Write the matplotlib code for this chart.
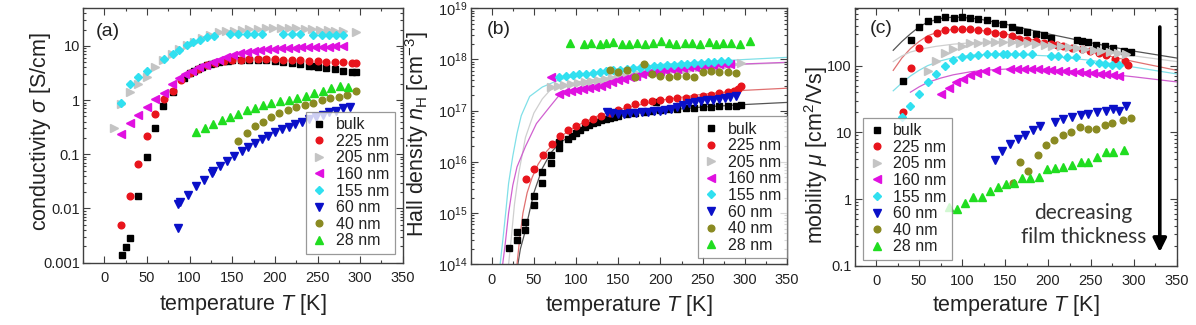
import matplotlib
matplotlib.use("Agg")
import matplotlib.pyplot as plt
from matplotlib.ticker import MultipleLocator, LogLocator, FuncFormatter, NullFormatter

plt.rcParams['font.family'] = ['Liberation Sans', 'DejaVu Sans']
plt.rcParams['mathtext.fontset'] = 'custom'
plt.rcParams['mathtext.rm'] = 'Liberation Sans'
plt.rcParams['mathtext.it'] = 'Liberation Sans:italic'
plt.rcParams['mathtext.bf'] = 'Liberation Sans:bold'

labels = ["bulk", "225 nm", "205 nm", "160 nm", "155 nm", "60 nm", "40 nm", "28 nm"]

# ---------------- panel (a): conductivity [S/cm] ----------------
a_T_bulk = [21, 25, 30, 40, 50, 59, 69, 80, 94, 100, 105, 110, 115, 120, 125, 130, 135, 140, 145, 150,
            160, 170, 180, 190, 200, 210, 220, 230, 240, 245, 250, 260, 270, 280, 290, 295]
a_bulk = [0.00136, 0.0019, 0.0028, 0.017, 0.089, 0.31, 0.77, 1.4, 2.6, 3.1, 3.5, 3.8, 4.1, 4.4, 4.7, 4.9,
          5.1, 5.2, 5.3, 5.4, 5.5, 5.6, 5.6, 5.5, 5.3, 5.1, 4.9, 4.6, 4.3, 4.2, 4.1, 3.9, 3.7, 3.5, 3.35, 3.3]
a_T_225 = [20, 30, 40, 50, 60, 70, 80, 90, 100, 110, 120, 130, 140, 150, 160, 170, 180, 190, 200, 210,
           220, 230, 240, 250, 260, 270, 280, 290, 295]
a_225 = [0.0049, 0.017, 0.066, 0.22, 0.55, 1.03, 1.5, 2.3, 3.1, 3.8, 4.4, 4.9, 5.2, 5.4, 5.6, 5.7, 5.8,
         5.8, 5.7, 5.6, 5.5, 5.4, 5.3, 5.2, 5.1, 5.0, 4.95, 4.9, 4.8]
a_T_205 = [11, 20, 30, 40, 50, 60, 69, 79, 88, 97, 105, 114, 124, 134, 143, 152, 161, 170, 180, 189, 198,
           207, 216, 225, 235, 244, 253, 262, 271, 280, 295]
a_205 = [0.30, 0.83, 1.4, 2.0, 2.7, 4.1, 5.6, 7.2, 8.6, 10.2, 12, 14, 16, 17.7, 18.5, 19.2, 19.8, 20.3,
         20.8, 21.2, 21.5, 21.5, 21.3, 21, 20.7, 20.3, 20, 19.5, 19, 18.5, 17.8]
a_T_160 = [20, 30, 40, 50, 60, 70, 79, 87, 95, 103, 111, 119, 127, 135, 143, 151, 159, 167, 175, 183, 191,
           199, 207, 215, 223, 231, 239, 247, 255, 263, 271, 280]
a_160 = [0.24, 0.38, 0.52, 0.74, 1.03, 1.35, 2.0, 2.5, 3.0, 3.5, 4.0, 4.5, 5.0, 5.6, 6.2, 6.8, 7.3, 7.7,
         8.0, 8.3, 8.6, 8.8, 9.0, 9.2, 9.3, 9.4, 9.5, 9.6, 9.7, 9.7, 9.8, 9.8]
a_T_155 = [20, 30, 40, 50, 70, 80, 88, 97, 104, 112, 120, 129, 147, 157, 167, 175, 185, 210, 220, 229,
           245, 255, 263, 272, 280]
a_155 = [0.9, 2.0, 2.7, 3.5, 5.8, 7.2, 8.5, 10.2, 11.7, 12.9, 14.4, 15.5, 16.5, 16.5, 16.5, 16.5, 16.5,
         16.5, 16.5, 16.5, 16.0, 16.0, 16.0, 16.0, 15.8]
a_T_60 = [86, 86, 89, 98, 108, 117, 126, 128, 136, 144, 152, 161, 169, 177, 185, 192, 200, 208, 216, 224,
          232, 240, 248, 256, 264, 272, 280, 288]
a_60 = [0.0043, 0.012, 0.013, 0.018, 0.026, 0.034, 0.045, 0.05, 0.060, 0.074, 0.091, 0.114, 0.136, 0.16,
        0.19, 0.22, 0.26, 0.29, 0.32, 0.36, 0.40, 0.44, 0.49, 0.54, 0.59, 0.64, 0.70, 0.76]
a_T_40 = [157, 167, 177, 186, 196, 205, 215, 225, 235, 245, 255, 265, 275, 285, 295]
a_40 = [0.176, 0.25, 0.33, 0.39, 0.49, 0.57, 0.65, 0.73, 0.82, 0.90, 1.0, 1.07, 1.15, 1.26, 1.45]
a_T_28 = [108, 118, 128, 138, 147, 157, 167, 177, 186, 196, 206, 216, 226, 236, 246, 256, 266, 276, 286]
a_28 = [0.26, 0.31, 0.36, 0.42, 0.49, 0.56, 0.65, 0.72, 0.80, 0.88, 0.95, 1.02, 1.1, 1.2, 1.35, 1.5,
        1.65, 1.8, 1.75]

# ---------------- panel (b): Hall density [cm^-3] ----------------
b_T_bulk = [20, 30, 30, 40, 40, 50, 50, 60, 60, 70, 70, 80, 80, 90, 95, 100, 105, 110, 115, 120, 125, 130,
            135, 140, 145, 150, 160, 170, 180, 190, 195, 200, 210, 220, 230, 240, 250, 260, 270, 280,
            290, 295]
b_bulk = [2.1e14, 3e14, 4.3e14, 4.7e14, 6.6e14, 1.45e15, 2.2e15, 3.9e15, 6.3e15, 9.6e15, 1.35e16, 1.9e16,
          2.4e16, 2.8e16, 3.2e16, 3.7e16, 4.2e16, 4.7e16, 5.2e16, 5.7e16, 6.1e16, 6.5e16, 6.9e16, 7.3e16,
          7.6e16, 8e16, 8.7e16, 9.2e16, 9.6e16, 1e17, 1.5e17, 1.02e17, 1.06e17, 1.1e17, 1.12e17, 1.15e17,
          1.17e17, 1.19e17, 1.21e17, 1.23e17, 1.25e17, 1.27e17]
b_T_225 = [41, 50, 61, 71, 81, 90, 100, 110, 120, 130, 140, 150, 160, 170, 180, 190, 200, 210, 220, 230,
           240, 250, 260, 270, 280, 287, 292, 296]
b_225 = [4.6e15, 7.4e15, 1.35e16, 2.2e16, 3.2e16, 4.2e16, 5e16, 6e16, 7e16, 8e16, 9e16, 1.05e17, 1.2e17,
         1.35e17, 1.5e17, 1.58e17, 1.65e17, 1.7e17, 1.75e17, 1.8e17, 1.85e17, 1.95e17, 2.05e17, 2.2e17,
         2.3e17, 2.4e17, 2.6e17, 3.0e17]
b_T_205 = [70, 78, 86, 94, 102, 110, 118, 126, 134, 142, 150, 158, 166, 174, 182, 190, 198, 206, 214, 222,
           230, 238, 246, 254, 262, 270, 278, 286, 295]
b_205 = [2.9e17, 3.0e17, 3.15e17, 3.3e17, 3.45e17, 3.6e17, 3.8e17, 4.0e17, 4.2e17, 4.4e17, 4.6e17, 4.8e17,
         5.0e17, 5.2e17, 5.4e17, 5.6e17, 5.8e17, 6.0e17, 6.2e17, 6.4e17, 6.6e17, 6.8e17, 7.0e17, 7.2e17,
         7.4e17, 7.6e17, 7.8e17, 8.0e17, 8.5e17]
b_T_160 = [70, 80, 87, 94, 101, 108, 115, 122, 129, 136, 143, 150, 157, 164, 171, 178, 185, 192, 199, 206,
           213, 220, 227, 234, 241, 248, 255, 262, 269, 276, 283]
b_160 = [4.5e17, 2.15e17, 2.3e17, 2.4e17, 2.5e17, 2.6e17, 2.75e17, 2.9e17, 3.1e17, 3.3e17, 3.6e17, 3.9e17,
         4.2e17, 4.5e17, 4.8e17, 5.1e17, 5.4e17, 5.7e17, 6.0e17, 6.2e17, 6.4e17, 6.6e17, 6.8e17, 7.0e17,
         7.2e17, 7.4e17, 7.6e17, 7.8e17, 8.0e17, 8.1e17, 8.3e17]
b_T_155 = [80, 88, 96, 104, 112, 120, 128, 136, 144, 152, 160, 168, 176, 184, 192, 200, 208, 216, 224, 232,
           240, 248, 256, 264, 272, 280]
b_155 = [4.5e17, 4.7e17, 4.9e17, 5.1e17, 5.3e17, 5.5e17, 5.7e17, 5.9e17, 6.1e17, 6.3e17, 6.5e17, 6.7e17,
         6.9e17, 7.1e17, 7.3e17, 7.5e17, 7.7e17, 7.9e17, 8.1e17, 8.3e17, 8.5e17, 8.7e17, 8.9e17, 9.1e17,
         9.3e17, 9.5e17]
b_T_60 = [137, 143, 150, 157, 164, 171, 178, 185, 192, 199, 206, 213, 220, 227, 234, 241, 248, 255, 262,
          269, 276, 283, 290]
b_60 = [9.5e16, 9e16, 8.8e16, 8.8e16, 9e16, 9.2e16, 9.4e16, 9.6e16, 9.8e16, 1e17, 1.05e17, 1.1e17, 1.2e17,
        1.3e17, 1.4e17, 1.5e17, 1.55e17, 1.6e17, 1.65e17, 1.7e17, 1.8e17, 1.85e17, 1.9e17]
b_T_40 = [140, 150, 160, 170, 180, 190, 200, 210, 220, 230, 240, 250, 260, 270, 280, 290]
b_40 = [6.2e17, 5.8e17, 6.3e17, 4.5e17, 8e17, 5.2e17, 4.8e17, 4.6e17, 4.7e17, 4.8e17, 4.5e17, 5.8e17,
        6e17, 5.6e17, 5.6e17, 5.5e17]
b_T_28 = [93, 109, 118, 128, 136, 144, 154, 163, 172, 182, 191, 201, 210, 219, 229, 237, 247, 257, 266,
          274, 284, 294, 306]
b_28 = [2.07e18, 1.98e18, 2.07e18, 2.0e18, 2.07e18, 2.15e18, 1.98e18, 2.0e18, 2.07e18, 1.98e18, 2.14e18,
        2.26e18, 2.07e18, 2.0e18, 2.07e18, 2.14e18, 2.0e18, 2.15e18, 1.98e18, 2.07e18, 2.07e18, 2.0e18,
        2.3e18]

# fit curves in (b)
b_fitT_bulk = [31, 34, 39, 45, 50, 60, 70, 80, 95, 110, 130, 150, 175, 200, 250, 300, 350]
b_fit_bulk = [1e14, 2e14, 4e14, 1.1e15, 2.5e15, 7.5e15, 1.5e16, 2.3e16, 3.4e16, 4.6e16, 6.2e16, 7.6e16,
              9e16, 1.0e17, 1.18e17, 1.32e17, 1.45e17]
b_fitT_225 = [30, 33, 37, 42, 48, 55, 65, 80, 100, 125, 150, 200, 250, 300, 350]
b_fit_225 = [1e14, 3e14, 1e15, 2.5e15, 5e15, 9e15, 1.6e16, 3e16, 5e16, 7.8e16, 1.05e17, 1.6e17, 2.1e17,
             2.5e17, 2.75e17]
b_fitT_205 = [20, 23, 27, 32, 40, 50, 60, 70, 100, 150, 200, 250, 300, 350]
b_fit_205 = [1e14, 3e14, 1.5e15, 6e15, 3e16, 9e16, 1.7e17, 2.6e17, 3.6e17, 4.8e17, 6.2e17, 7.3e17, 8e17,
             8.6e17]
b_fitT_160 = [13, 16, 20, 25, 30, 40, 53, 69, 80, 100, 150, 200, 250, 300, 350]
b_fit_160 = [1e14, 2.5e14, 1e15, 3.5e15, 8e15, 2e16, 5.6e16, 1.2e17, 2e17, 2.7e17, 4.2e17, 6e17, 7.3e17,
             8.2e17, 8.8e17]
b_fitT_155 = [10, 12, 14, 17, 20, 25, 30, 35, 45, 60, 80, 100, 150, 200, 250, 300, 350]
b_fit_155 = [1e14, 2e14, 4e14, 1.2e15, 3.8e15, 1.3e16, 3.6e16, 8e16, 1.9e17, 2.9e17, 4e17, 4.8e17, 6.5e17,
             8e17, 9e17, 1e18, 1.1e18]

# ---------------- panel (c): mobility [cm^2/Vs] ----------------
c_T_bulk = [31, 41, 50, 60, 71, 80, 91, 100, 109, 119, 129, 138, 148, 158, 166, 176, 186, 195, 204, 234,
            240, 246, 256, 266, 276, 288, 296]
c_bulk = [59, 240, 380, 460, 505, 530, 515, 540, 515, 500, 480, 435, 415, 380, 345, 322, 300, 285, 262,
          240, 235, 225, 205, 198, 185, 165, 160]
c_T_225 = [31, 41, 50, 60, 71, 80, 91, 100, 109, 119, 129, 138, 148, 158, 166, 176, 186, 195, 204, 211,
           218, 228, 240, 249, 259, 268, 278, 290, 293]
c_225 = [20, 91, 182, 255, 310, 340, 350, 355, 355, 345, 330, 310, 295, 275, 255, 240, 235, 215, 210, 205,
         195, 185, 175, 165, 155, 145, 128, 118, 102]
c_T_205 = [61, 70, 80, 90, 100, 109, 119, 129, 138, 148, 158, 167, 177, 186, 196, 205, 215, 224, 234,
           243, 253, 262, 272, 281, 291]
c_205 = [83, 118, 155, 180, 200, 215, 220, 230, 230, 230, 225, 222, 218, 212, 205, 200, 195, 190, 182,
         175, 170, 165, 160, 155, 150]
c_T_160 = [76, 85, 93, 101, 109, 118, 127, 140, 156, 164, 172, 180, 188, 196, 204, 212, 220, 228, 236,
           244, 252, 260, 268, 276, 282]
c_160 = [37, 47, 57, 64, 72, 78, 84, 85, 90, 90, 90, 89, 88, 87, 86, 84, 83, 81, 80, 78, 77, 75, 74, 73, 71]
c_T_155 = [30, 40, 50, 60, 70, 80, 90, 100, 109, 119, 129, 138, 148, 152, 162, 171, 181, 203, 212, 222,
           232, 249, 259, 266, 274, 282]
c_155 = [17, 25, 37.5, 57, 76, 100, 120, 133, 139, 145, 148, 150, 150, 151, 151, 150, 150, 140, 138, 136,
         134, 115, 110, 107, 104, 102]
c_T_60 = [138, 147, 156, 165, 173, 182, 191, 208, 218, 228, 238, 247, 257, 267, 276, 282, 291]
c_60 = [3.85, 5.3, 6.7, 7.9, 9.1, 10.8, 12.4, 14.5, 16, 17, 18, 19, 20, 21, 22, 21, 24.5]
c_T_40 = [159, 168, 177, 188, 198, 207, 217, 227, 237, 247, 256, 266, 275, 287, 296]
c_40 = [1.72, 3.6, 2.6, 4.6, 6.5, 7.8, 9.0, 10, 12, 11.3, 11.3, 13.1, 14, 15.4, 16.6]
c_T_28 = [85, 94, 104, 113, 123, 132, 142, 151, 160, 170, 179, 189, 199, 208, 218, 228, 238, 247, 257,
          267, 276, 288]
c_28 = [0.77, 0.70, 0.86, 1.06, 1.08, 1.33, 1.53, 1.66, 1.76, 2.04, 2.1, 2.15, 2.8, 2.9, 3.0, 3.2, 3.6,
        3.6, 4.3, 5.0, 5.1, 5.5]

# fit curves in (c)
c_fitT_bulk = [20, 30, 40, 50, 60, 75, 90, 100, 120, 150, 200, 250, 300, 350]
c_fit_bulk = [170, 230, 300, 380, 450, 510, 535, 530, 500, 420, 300, 220, 165, 130]
c_fitT_225 = [20, 30, 40, 50, 60, 75, 90, 100, 120, 150, 200, 250, 300, 350]
c_fit_225 = [85, 130, 180, 230, 280, 330, 350, 352, 340, 300, 220, 160, 115, 85]
c_fitT_205 = [20, 30, 40, 55, 70, 90, 110, 130, 150, 200, 250, 300, 350]
c_fit_205 = [115, 140, 160, 180, 195, 210, 220, 225, 225, 205, 175, 140, 115]
c_fitT_155 = [20, 30, 40, 50, 60, 75, 90, 110, 130, 150, 200, 250, 300, 350]
c_fit_155 = [42, 55, 70, 85, 100, 118, 132, 143, 148, 150, 140, 120, 95, 75]
c_fitT_160 = [40, 50, 60, 75, 90, 110, 130, 160, 200, 250, 300, 350]
c_fit_160 = [40, 48, 56, 65, 73, 81, 86, 90, 88, 80, 68, 57]

# ---------------- styles ----------------
markers = ['s', 'o', '>', '<', 'D', 'v', 'o', '^']
colors = ['#000000', '#e8141c', '#c4c4c4', '#e010e0', '#30e0f0', '#0a10c8', '#8a8a22', '#20dd20']
msizes = [4.4, 4.8, 5.2, 5.2, 4.0, 5.2, 4.8, 5.2]
fitcolors = {'bulk': '#555555', '225': '#e07070', '205': '#cfcfcf', '160': '#d060d0', '155': '#80e0e8'}

fig = plt.figure(figsize=(11.96, 3.25), dpi=100)
axA = fig.add_axes([0.0694, 0.192, 0.2674, 0.7834])
axB = fig.add_axes([0.3935, 0.1868, 0.2645, 0.7877])
axC = fig.add_axes([0.7145, 0.1825, 0.2696, 0.7920])

frame = '#404040'
tickcol = '#222222'


def style_axis(ax, ylim, yfmt):
    ax.set_xlim(-25, 350)
    ax.set_yscale('log')
    ax.set_ylim(*ylim)
    ax.xaxis.set_major_locator(MultipleLocator(50))
    ax.xaxis.set_minor_locator(MultipleLocator(25))
    ax.yaxis.set_major_locator(LogLocator(base=10, numticks=20))
    ax.yaxis.set_minor_locator(LogLocator(base=10, subs=[2, 3, 4, 5, 6, 7, 8, 9], numticks=20))
    ax.yaxis.set_minor_formatter(NullFormatter())
    if yfmt is not None:
        ax.yaxis.set_major_formatter(yfmt)
    ax.tick_params(which='both', direction='in', top=True, right=True, colors=frame,
                   labelcolor=tickcol, width=0.8)
    ax.tick_params(which='major', length=5, labelsize=10.5)
    ax.tick_params(which='minor', length=2.5)
    ax.tick_params(axis='x', which='major', pad=6)
    ax.tick_params(axis='y', which='major', pad=2)
    for s in ax.spines.values():
        s.set_color(frame)
        s.set_linewidth(1.0)
    ax.set_xlabel('temperature $T$ [K]', fontsize=15.5, color=tickcol, va='top')


gfmt = FuncFormatter(lambda v, p: '%g' % v)

# ---- (a)
a_series = [(a_T_bulk, a_bulk), (a_T_225, a_225), (a_T_205, a_205), (a_T_160, a_160),
            (a_T_155, a_155), (a_T_60, a_60), (a_T_40, a_40), (a_T_28, a_28)]
for (T, v), m, c, ms, lab in zip(a_series, markers, colors, msizes, labels):
    axA.plot(T, v, linestyle='none', marker=m, color=c, ms=ms, mec=c, label=lab)
style_axis(axA, (0.001, 50), gfmt)
axA.set_ylabel('conductivity $\\sigma$ [S/cm]', fontsize=15.5, color=tickcol)
axA.yaxis.set_label_coords(-0.094, 0.515)
axA.xaxis.set_label_coords(0.5, -0.115)
axA.text(0.078, 0.906, '(a)', transform=axA.transAxes, fontsize=14, ha='center', va='center',
         color=tickcol)

# ---- (b)
b_fits = [(b_fitT_bulk, b_fit_bulk, 'bulk'), (b_fitT_225, b_fit_225, '225'), (b_fitT_205, b_fit_205, '205'),
          (b_fitT_160, b_fit_160, '160'), (b_fitT_155, b_fit_155, '155')]
for T, v, k in b_fits:
    axB.plot(T, v, '-', color=fitcolors[k], lw=0.9, zorder=1)
b_series = [(b_T_bulk, b_bulk), (b_T_225, b_225), (b_T_205, b_205), (b_T_160, b_160),
            (b_T_155, b_155), (b_T_60, b_60), (b_T_40, b_40), (b_T_28, b_28)]
for (T, v), m, c, ms, lab in zip(b_series, markers, colors, msizes, labels):
    axB.plot(T, v, linestyle='none', marker=m, color=c, ms=ms, mec=c, label=lab, zorder=2)
style_axis(axB, (1e14, 1e19), None)
axB.set_ylabel('Hall density $n_\\mathrm{H}$ [cm$^{-3}$]', fontsize=15.5, color=tickcol)
axB.yaxis.set_label_coords(-0.126, 0.509)
axB.xaxis.set_label_coords(0.5, -0.112)
axB.text(0.088, 0.919, '(b)', transform=axB.transAxes, fontsize=14, ha='center', va='center',
         color=tickcol)

# ---- (c)
c_fits = [(c_fitT_bulk, c_fit_bulk, 'bulk'), (c_fitT_225, c_fit_225, '225'), (c_fitT_205, c_fit_205, '205'),
          (c_fitT_155, c_fit_155, '155'), (c_fitT_160, c_fit_160, '160')]
for T, v, k in c_fits:
    axC.plot(T, v, '-', color=fitcolors[k], lw=0.9, zorder=1)
c_series = [(c_T_bulk, c_bulk), (c_T_225, c_225), (c_T_205, c_205), (c_T_160, c_160),
            (c_T_155, c_155), (c_T_60, c_60), (c_T_40, c_40), (c_T_28, c_28)]
for (T, v), m, c, ms, lab in zip(c_series, markers, colors, msizes, labels):
    axC.plot(T, v, linestyle='none', marker=m, color=c, ms=ms, mec=c, label=lab, zorder=2)
style_axis(axC, (0.1, 725), gfmt)
axC.set_ylabel('mobility $\\mu$ [cm$^2$/Vs]', fontsize=15.5, color=tickcol)
axC.yaxis.set_label_coords(-0.076, 0.43)
axC.xaxis.set_label_coords(0.5, -0.106)
axC.text(0.084, 0.92, '(c)', transform=axC.transAxes, fontsize=14, ha='center', va='center',
         color=tickcol)
axC.annotate('', xy=(330, 0.16), xytext=(330, 380),
             arrowprops=dict(arrowstyle='-|>', lw=2.6, color='black', mutation_scale=20,
                             shrinkA=0, shrinkB=0))
axC.text(241, 0.41, 'decreasing\nfilm thickness', fontsize=15, ha='center', va='center',
         color='#333333', family=['Lato', 'DejaVu Sans'], linespacing=1.25)

# ---- legends
leg_kw = dict(fontsize=11.5, frameon=True, fancybox=False, handlelength=1.0, handletextpad=0.55,
              labelspacing=0.1, borderpad=0.35, borderaxespad=0.0, numpoints=1)
for ax, loc, anchor in [(axA, 'lower right', (0.975, 0.034)), (axB, 'lower right', (1.0, 0.023)),
                        (axC, 'lower left', (0.026, 0.022))]:
    leg = ax.legend(loc=loc, bbox_to_anchor=anchor, **leg_kw)
    leg.get_frame().set_edgecolor('#808080')
    leg.get_frame().set_linewidth(0.9)
    for t in leg.get_texts():
        t.set_color(tickcol)

fig.savefig('out.png', dpi=100)
